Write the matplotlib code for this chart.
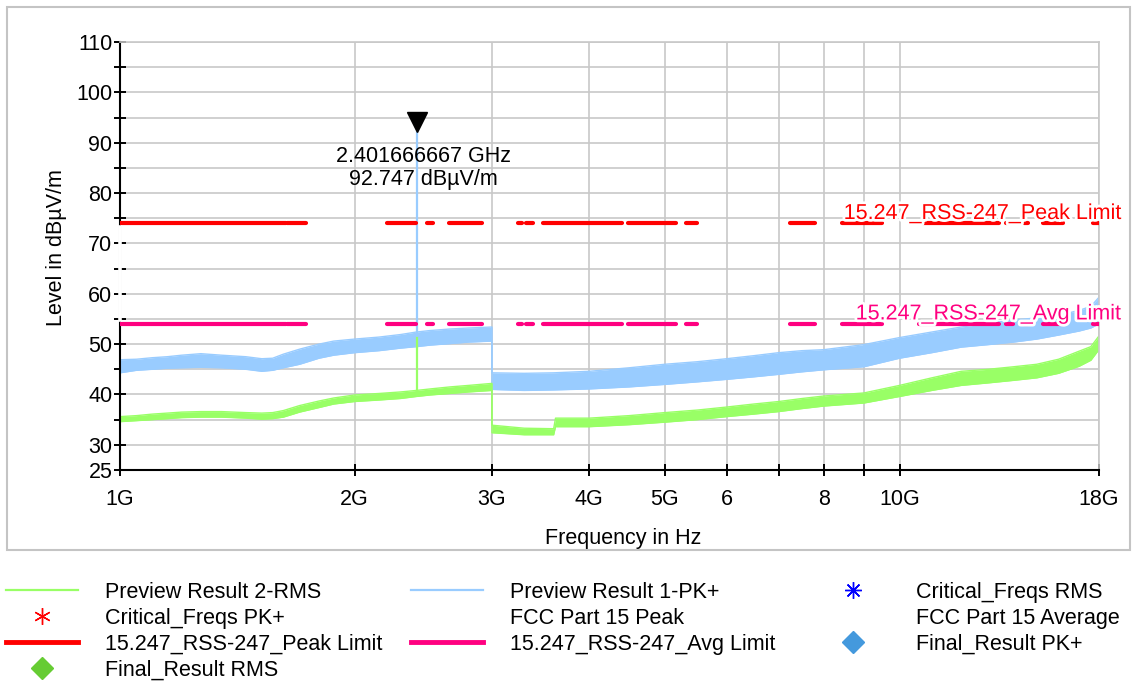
import matplotlib
matplotlib.use("Agg")
import matplotlib.pyplot as plt
import matplotlib.transforms as mtransforms
import matplotlib.patheffects as pe
from matplotlib.lines import Line2D
from matplotlib.patches import Rectangle
from matplotlib.ticker import FixedLocator, FixedFormatter, NullLocator

plt.rcParams['font.family'] = ['Liberation Sans', 'DejaVu Sans']

# ---------------- data (GHz / dBuV/m) ----------------
# Preview Result 1-PK+ (blue band: lower / upper envelope)
pk_freq = [1.0, 1.05, 1.1, 1.15, 1.2, 1.27, 1.35, 1.45, 1.52, 1.57, 1.62, 1.7, 1.8, 1.88,
           2.0, 2.15, 2.29, 2.4, 2.5, 2.65, 2.8, 3.0,
           3.0, 3.3, 3.6, 4.0, 4.5, 5.0, 5.5, 6.0, 6.5, 7.0, 7.5, 8.0, 9.0, 10.0, 11.0,
           12.0, 13.0, 14.0, 15.0, 16.0, 17.0, 17.6, 18.0]
pk_upper = [46.9, 47.0, 47.3, 47.5, 47.8, 48.1, 47.8, 47.5, 47.1, 47.2, 48.0, 49.0, 50.0, 50.6,
            51.0, 51.4, 51.9, 52.4, 52.7, 53.0, 53.2, 53.4,
            44.3, 44.2, 44.3, 44.6, 45.3, 46.0, 46.5, 47.1, 47.7, 48.3, 48.7, 48.9, 49.9, 51.3, 52.4,
            53.4, 54.1, 54.8, 55.2, 55.7, 56.7, 57.5, 59.2]
pk_lower = [44.3, 44.8, 45.0, 45.2, 45.3, 45.4, 45.3, 45.0, 44.6, 44.8, 45.3, 46.0, 47.2, 47.8,
            48.3, 48.7, 49.2, 49.5, 49.8, 50.1, 50.4, 50.6,
            41.0, 40.8, 40.9, 41.1, 41.5, 42.0, 42.5, 43.0, 43.5, 44.0, 44.5, 44.9, 45.5, 47.2, 48.3,
            49.4, 49.9, 50.4, 51.0, 51.8, 52.6, 53.2, 54.0]

# Preview Result 2-RMS (green band)
rms_freq = [1.0, 1.05, 1.1, 1.15, 1.2, 1.27, 1.35, 1.45, 1.52, 1.57, 1.62, 1.7, 1.8, 1.88,
            2.0, 2.15, 2.29, 2.4, 2.5, 2.65, 2.8, 3.0,
            3.0, 3.3, 3.6, 3.62, 4.0, 4.5, 5.0, 5.5, 6.0, 6.5, 7.0, 7.5, 8.0, 9.0, 10.0, 11.0,
            12.0, 13.0, 14.0, 15.0, 16.0, 17.0, 17.6, 18.0]
rms_upper = [35.6, 35.8, 36.1, 36.3, 36.5, 36.6, 36.6, 36.4, 36.3, 36.4, 36.8, 37.8, 38.7, 39.3,
             39.9, 40.2, 40.5, 40.8, 41.1, 41.5, 41.8, 42.2,
             33.9, 33.3, 33.2, 35.3, 35.3, 35.8, 36.4, 36.9, 37.5, 38.1, 38.6, 39.2, 39.7, 40.3, 41.8, 43.3,
             44.6, 45.0, 45.5, 46.0, 47.0, 48.6, 49.5, 51.5]
rms_lower = [34.6, 34.8, 35.0, 35.2, 35.4, 35.5, 35.5, 35.3, 35.1, 35.2, 35.5, 36.5, 37.4, 38.1,
             38.6, 38.9, 39.2, 39.6, 39.9, 40.2, 40.5, 40.8,
             32.4, 32.0, 32.0, 33.6, 33.6, 34.0, 34.5, 35.0, 35.6, 36.1, 36.6, 37.2, 37.7, 38.3, 39.6, 40.8,
             41.8, 42.3, 42.8, 43.3, 44.2, 45.6, 46.8, 48.8]

# carrier spike
spike_freq = 2.401666667
spike_pk = 92.747
spike_pk_base = 49.5
spike_rms_top = 51.3
spike_rms_base = 40.6

# limit lines (drawn segments, GHz)
limit_seg_start = [1.0, 1.636, 2.198, 2.475, 2.643, 3.24, 3.32, 3.49, 4.49, 5.32, 7.24, 8.44,
                   10.6, 13.7, 14.45, 15.3, 17.7]
limit_seg_end = [1.633, 1.732, 2.398, 2.52, 2.913, 3.28, 3.39, 4.41, 5.17, 5.49, 7.79, 9.5,
                 13.4, 14.0, 14.6, 16.2, 18.0]
peak_limit = 74.0
avg_limit = 54.0

x_ticks = [1, 2, 3, 4, 5, 6, 7, 8, 9, 10, 18]
x_labels = ['1G', '2G', '3G', '4G', '5G', '6', '', '8', '', '10G', '18G']
y_major = [25, 30, 40, 50, 60, 70, 80, 90, 100, 110]
y_minor = [35, 45, 55, 65, 75, 85, 95, 105]

# ---------------- figure ----------------
W, H = 1135, 681
fig = plt.figure(figsize=(W / 100, H / 100), dpi=100)
fig.patches.append(Rectangle((7 / W, 1 - 550 / H), 1123 / W, 543 / H, transform=fig.transFigure,
                             fill=False, edgecolor='#C4C4C4', linewidth=1.5))

ax = fig.add_axes([120 / W, 1 - 470 / H, 978.5 / W, 428 / H])
G = 1e9
ax.set_xscale('log')
ax.set_xlim(1 * G, 18 * G)
ax.set_ylim(25, 110)

grid_c = '#C8C8C8'
FS = 15.5

pf = [f * G for f in pk_freq]
rf = [f * G for f in rms_freq]
blue = '#99CCFF'
green = '#99FF66'
ax.fill_between(pf, pk_lower, pk_upper, color=blue, linewidth=0, zorder=2)
ax.plot(pf, pk_upper, color=blue, lw=1, zorder=2)
ax.plot(pf, pk_lower, color=blue, lw=1, zorder=2)
ax.plot([spike_freq * G] * 2, [spike_pk_base, spike_pk], color=blue, lw=1.6, zorder=2)

ax.fill_between(rf, rms_lower, rms_upper, color=green, linewidth=0, zorder=2.1)
ax.plot(rf, rms_upper, color=green, lw=1, zorder=2.1)
ax.plot(rf, rms_lower, color=green, lw=1, zorder=2.1)
ax.plot([spike_freq * G] * 2, [spike_rms_base, spike_rms_top], color=green, lw=1.6, zorder=2.1)

red = '#FF0000'
pink = '#FF0080'
for s, e in zip(limit_seg_start, limit_seg_end):
    ax.plot([s * G, e * G], [peak_limit] * 2, color=red, lw=3, solid_capstyle='round', zorder=3)
    ax.plot([s * G, e * G], [avg_limit] * 2, color=pink, lw=3, solid_capstyle='round', zorder=3)

halo = [pe.withStroke(linewidth=4, foreground='white')]
lab_x = 19.24 * G
ax.text(lab_x, peak_limit + 0.85, '15.247_RSS-247_Peak Limit', color=red, fontsize=FS,
        ha='right', va='baseline', clip_on=False, path_effects=halo, zorder=4)
ax.text(lab_x, avg_limit + 0.9, '15.247_RSS-247_Avg Limit', color=pink, fontsize=FS,
        ha='right', va='baseline', clip_on=False, path_effects=halo, zorder=4)

# marker + annotation
tri_trans = mtransforms.offset_copy(ax.transData, fig=fig, x=0, y=7, units='dots')
ax.plot([spike_freq * G], [spike_pk], marker='v', markersize=15, color='black',
        transform=tri_trans, clip_on=False, zorder=5)
ax.annotate(f'{spike_freq:.9f} GHz\n{spike_pk:.3f} dBµV/m', xy=(spike_freq * G, spike_pk),
            xytext=(5, -28), textcoords='offset points', ha='center', va='center',
            fontsize=FS, linespacing=1.12, zorder=5)

# axes styling
ax.xaxis.set_major_locator(FixedLocator([t * G for t in x_ticks]))
ax.xaxis.set_major_formatter(FixedFormatter(x_labels))
ax.xaxis.set_minor_locator(NullLocator())
ax.yaxis.set_major_locator(FixedLocator(y_major))
ax.yaxis.set_minor_locator(FixedLocator(y_minor))
ax.grid(True, which='both', axis='y', color=grid_c, lw=1.2, zorder=0)
ax.grid(True, which='major', axis='x', color=grid_c, lw=1.2, zorder=0)
ax.set_axisbelow(True)
ax.tick_params(axis='both', which='both', direction='inout', length=9, width=1.4,
               colors='black', labelsize=FS)
ax.tick_params(axis='x', pad=9.5)
ax.tick_params(axis='y', pad=1)
for sp in ['top', 'right']:
    ax.spines[sp].set_color(grid_c)
    ax.spines[sp].set_linewidth(1.2)
for sp in ['left', 'bottom']:
    ax.spines[sp].set_color('black')
    ax.spines[sp].set_linewidth(1.5)

# gap in the left axis line between the limit lines
ax.plot([0, 0], [54.7, 73.3], transform=mtransforms.blended_transform_factory(ax.transAxes, ax.transData),
        color='white', lw=2.6, clip_on=False, zorder=3.5)

ax.set_xlabel('Frequency in Hz', fontsize=FS)
ax.xaxis.set_label_coords(0.5146, -0.136)
ax.set_ylabel('Level in dBµV/m', fontsize=FS)
ax.yaxis.set_label_coords(-0.054, 0.519)

# ---------------- legend ----------------
def h_line(c, lw):
    return Line2D([], [], color=c, lw=lw)

def h_mark(m, c, ms):
    return Line2D([], [], color=c, marker=m, markersize=ms, linestyle='none')

blank = Line2D([], [], linestyle='none')
cols = [
    ([h_line(green, 1.6), h_mark((6, 2, 0), red, 12), h_line(red, 3.5), h_mark('D', '#66CC33', 11)],
     ['Preview Result 2-RMS', 'Critical_Freqs PK+', '15.247_RSS-247_Peak Limit', 'Final_Result RMS'], 6),
    ([h_line(blue, 1.6), blank, h_line(pink, 3.5)],
     ['Preview Result 1-PK+', 'FCC Part 15 Peak', '15.247_RSS-247_Avg Limit'], 411),
    ([h_mark((8, 2, 0), '#0000FF', 12), blank, h_mark('D', '#4499DD', 11)],
     ['Critical_Freqs RMS', 'FCC Part 15 Average', 'Final_Result PK+'], 817),
]
for handles, labels, xpix in cols:
    fig.legend(handles, labels, loc='upper left', bbox_to_anchor=(xpix / W, 1 - 582 / H),
               frameon=False, fontsize=FS, handlelength=3.35, handletextpad=1.26,
               labelspacing=0.23, borderpad=0, borderaxespad=0, numpoints=1)

fig.savefig('out.png', dpi=100)
